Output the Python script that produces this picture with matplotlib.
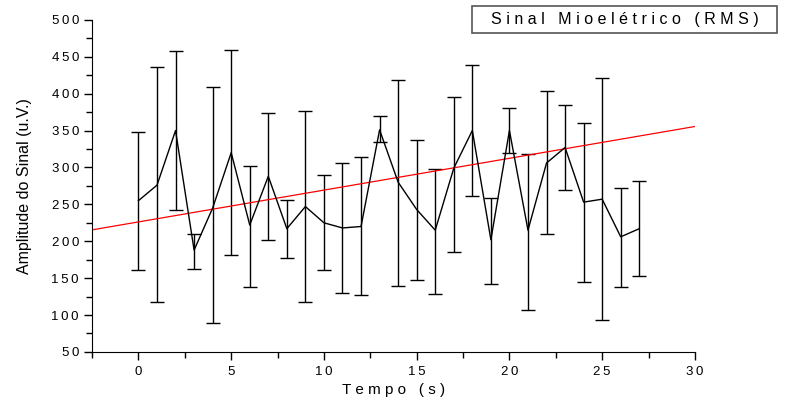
import matplotlib
matplotlib.use("Agg")
import matplotlib.pyplot as plt
import numpy as np
from matplotlib.ticker import MultipleLocator, FuncFormatter
from matplotlib.patches import Rectangle

plt.rcParams["font.family"] = ["Liberation Sans", "DejaVu Sans"]

# data
tempo = list(range(28))
rms = [255, 276, 350, 188, 245, 320, 222, 288, 217, 247, 225, 218, 220, 351,
       280, 243, 215, 299, 350, 202, 350, 215, 306, 327, 253, 257, 206, 217]
err_top = [348, 436, 458, 210, 409, 459, 302, 374, 256, 377, 290, 306, 314, 370,
           419, 337, 298, 396, 439, 258, 381, 318, 404, 384, 360, 421, 272, 282]
err_bot = [161, 117, 243, 163, 89, 182, 138, 202, 177, 117, 161, 130, 127, 334,
           139, 147, 128, 185, 261, 142, 319, 107, 210, 270, 145, 93, 138, 153]
fit_intercept = 226.2
fit_slope = 4.31


def spaced(s, sep="\u2009"):
    return sep.join(s)


fig = plt.figure(figsize=(7.87, 4.05), dpi=100)
ax = fig.add_axes([0.117, 0.131, 0.766, 0.82])

rms_a = np.array(rms)
yerr = [rms_a - np.array(err_bot), np.array(err_top) - rms_a]
ax.errorbar(tempo, rms, yerr=yerr, color="black", lw=1, elinewidth=1,
            capsize=5, capthick=1)

xf = np.array([-2.5, 30])
ax.plot(xf, fit_intercept + fit_slope * xf, color="red", lw=0.9)

ax.set_xlim(-2.5, 30)
ax.set_ylim(50, 500)
ax.xaxis.set_major_locator(MultipleLocator(5))
ax.xaxis.set_minor_locator(MultipleLocator(2.5))
ax.yaxis.set_major_locator(MultipleLocator(50))
ax.yaxis.set_minor_locator(MultipleLocator(25))
fmt = FuncFormatter(lambda v, p: spaced(str(int(round(v)))))
ax.xaxis.set_major_formatter(fmt)
ax.yaxis.set_major_formatter(fmt)
ax.tick_params(which="major", length=6, width=1, labelsize=9.5, direction="out")
ax.tick_params(which="minor", length=4, width=1, direction="out")
ax.tick_params(axis="x", pad=4)

ax.spines["top"].set_visible(False)
ax.spines["right"].set_visible(False)

ax.set_xlabel(spaced("Tempo (s)", " "), fontsize=11, labelpad=4)
ax.set_ylabel("Amplitude do Sinal (u.V.)", fontsize=11.5, labelpad=14)

fig.patches.append(Rectangle((0.5997, 0.9185), 0.3876, 0.0665,
                             transform=fig.transFigure, fill=False,
                             ec="#555555", lw=1.2))
fig.text(0.7935, 0.952, spaced("Sinal Mioelétrico (RMS)", " "),
         fontsize=11.5, ha="center", va="center")

fig.savefig("out.png", dpi=100)
